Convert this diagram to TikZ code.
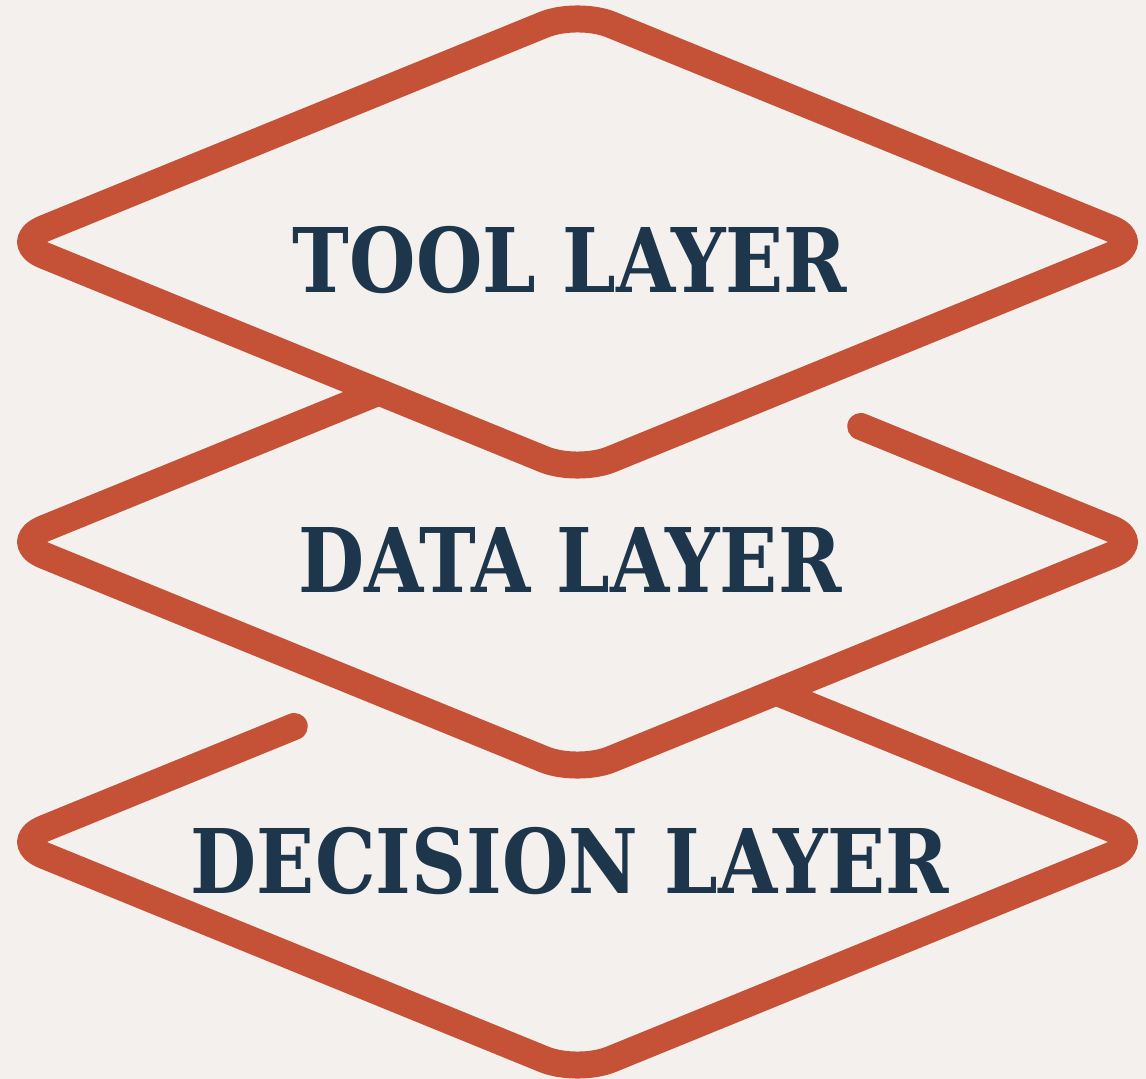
\documentclass[tikz,border=0pt]{standalone}
\usepackage{fontspec}
\usetikzlibrary{calc}
\newfontfamily\layerfont{DejaVuSerifCondensed-Bold.ttf}[FakeStretch=0.95]
\definecolor{layerred}{RGB}{197,82,54}
\definecolor{layerblue}{RGB}{30,54,75}
\definecolor{paper}{RGB}{243,240,237}

\tikzset{every picture/.style={line width=0.75pt}}
\tikzset{
	layer line/.style={draw=layerred, line width=13.5pt, rounded corners=18pt, line join=round},
	layer text/.style={anchor=base, inner sep=0pt, text=layerblue, font=\layerfont\fontsize{44.6}{50}\selectfont}
}

\begin{document}
\begin{tikzpicture}[x=0.5pt,y=0.5pt,yscale=-1,xscale=1]
		%Background
		\fill [paper] (0,0) rectangle (1146,1079);
		\useasboundingbox (0,0) rectangle (1146,1079);

		%Corners of the three diamonds
		\coordinate (T1) at (577.5,11);  \coordinate (R1) at (1144,242); \coordinate (B1) at (577.5,473);  \coordinate (L1) at (11,242);
		\coordinate (T2) at (577.5,311); \coordinate (R2) at (1144,542); \coordinate (B2) at (577.5,773);  \coordinate (L2) at (11,542);
		\coordinate (T3) at (577.5,611); \coordinate (R3) at (1144,842); \coordinate (B3) at (577.5,1073); \coordinate (L3) at (11,842);

		%Shape: Diamond top
		\draw [layer line] ($(L1)!0.5!(T1)$) -- (T1) -- (R1) -- (B1) -- (L1) -- cycle;
		%Shape: Diamond middle, open at the top
		\draw [layer line, line cap=round] ($(T2)!0.5!(R2)$) -- (R2) -- (B2) -- (L2) -- (intersection of L2--T2 and L1--B1);
		%Shape: Diamond bottom, open at the top
		\draw [layer line, line cap=round] ($(T3)!0.5!(L3)$) -- (L3) -- (B3) -- (R3) -- (intersection of R3--T3 and R2--B2);

		% Text Node
		\draw (570,293) node [layer text] (tool) {TOOL LAYER};
		% Text Node
		\draw (570,593) node [layer text] (data) {DATA LAYER};
		% Text Node
		\draw (570,893) node [layer text] (decision) {DECISION LAYER};

\end{tikzpicture}
\end{document}
